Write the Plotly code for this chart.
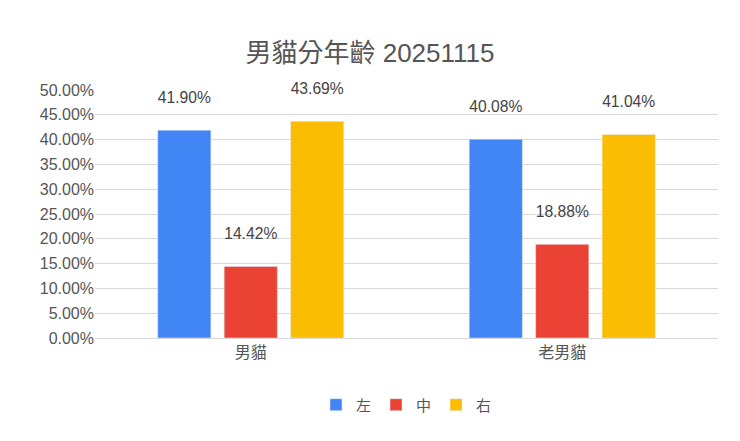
import plotly.graph_objects as go

categories = ["男貓", "老男貓"]
series_names = ["左", "中", "右"]
left_vals = [0.4190, 0.4008]
mid_vals = [0.1442, 0.1888]
right_vals = [0.4369, 0.4104]

COLORS = ["#4285F4", "#EA4335", "#FBBC04"]
FONT = "Liberation Sans, Noto Sans CJK TC"

fig = go.Figure()
for name, vals, color in zip(series_names, [left_vals, mid_vals, right_vals], COLORS):
    fig.add_trace(go.Bar(
        x=categories, y=vals, name=name, marker_color=color,
        text=[f"{v:.2%}<br> " for v in vals], textposition="outside",
        textfont=dict(size=17, color="#444"), cliponaxis=False,
    ))

fig.update_layout(
    width=724, height=425,
    margin=dict(l=87, r=14, t=82, b=91),
    paper_bgcolor="white", plot_bgcolor="white",
    font=dict(family=FONT, color="#555"),
    title=dict(text="男貓分年齡 20251115", x=0.5, xanchor="center", y=0.915,
               font=dict(size=26, color="#555")),
    barmode="group", bargap=0.36, bargroupgap=0.2,
    legend=dict(orientation="h", x=0.5, xanchor="center", y=-0.27, yanchor="middle",
                font=dict(size=15, color="#555")),
)
fig.update_yaxes(range=[0, 0.5], dtick=0.05, tickformat=".2%",
                 gridcolor="#d9d9d9", tickfont=dict(size=16, color="#555"),
                 zeroline=False, showline=False)
fig.update_xaxes(showline=True, linecolor="#d9d9d9", tickfont=dict(size=16, color="#555"))

fig.write_html("out.html")
